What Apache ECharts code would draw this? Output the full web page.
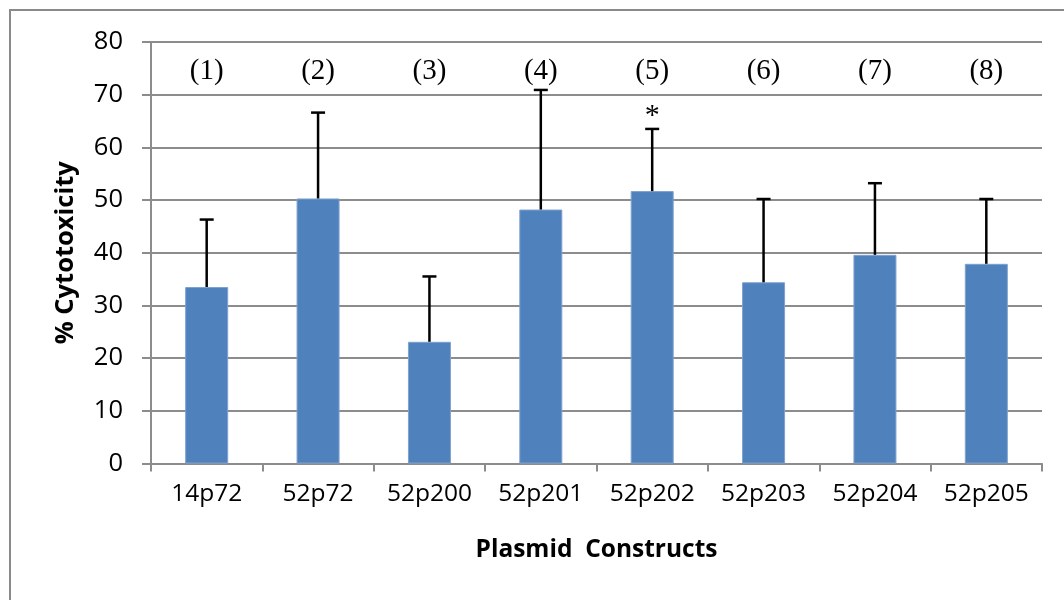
<!DOCTYPE html>
<html>
<head>
<meta charset="utf-8">
<script src="https://cdn.jsdelivr.net/npm/echarts@6/dist/echarts.min.js"></script>
<style>
  html, body { margin: 0; padding: 0; background: #fff; }
  #chart { width: 1064px; height: 600px; }
</style>
</head>
<body>
<div id="chart"></div>
<script>
// Plasmid constructs and their mean % cytotoxicity with upper error bars
const categories = ['14p72', '52p72', '52p200', '52p201', '52p202', '52p203', '52p204', '52p205'];
const cytotoxicity = [33.5, 50.3, 23.1, 48.2, 51.7, 34.4, 39.6, 37.9];
const errorTop = [46.3, 66.6, 35.5, 70.9, 63.5, 50.2, 53.2, 50.2];
const groupLabels = ['(1)', '(2)', '(3)', '(4)', '(5)', '(6)', '(7)', '(8)'];
const significance = ['', '', '', '', '*', '', '', ''];
const yTicks = { min: 0, max: 80, interval: 10 };
const groupLabelLevel = 74.5;

const sans = '"Open Sans", "Noto Sans", sans-serif';
const serif = '"Liberation Serif", "DejaVu Serif", serif';
const gridGray = '#8c8c8c';

const chart = echarts.init(document.getElementById('chart'));

chart.setOption({
  animation: false,
  backgroundColor: '#fff',
  graphic: [{
    type: 'rect',
    shape: { x: 10, y: 10, width: 1120, height: 700 },
    style: { fill: 'none', stroke: '#8a8a8a', lineWidth: 2 },
    z: -1
  }],
  grid: { left: 151, right: 22, top: 42, bottom: 136.5 },
  xAxis: {
    type: 'category',
    data: categories,
    name: 'Plasmid  Constructs',
    nameLocation: 'middle',
    nameGap: 74,
    nameTextStyle: { fontFamily: sans, fontSize: 24.5, fontWeight: 'bold', color: '#000' },
    axisLine: { lineStyle: { color: gridGray, width: 2 } },
    axisTick: { show: true, length: 8, lineStyle: { color: gridGray, width: 2 } },
    axisLabel: { fontFamily: sans, fontSize: 24.5, color: '#000', margin: 18 }
  },
  yAxis: {
    type: 'value',
    min: yTicks.min, max: yTicks.max, interval: yTicks.interval,
    name: '% Cytotoxicity',
    nameLocation: 'middle',
    nameGap: 72,
    nameTextStyle: { fontFamily: sans, fontSize: 25.5, fontWeight: 'bold', color: '#000' },
    axisLine: { show: true, lineStyle: { color: gridGray, width: 2 } },
    axisTick: { show: true, length: 9, lineStyle: { color: gridGray, width: 2 } },
    axisLabel: { fontFamily: sans, fontSize: 25.5, color: '#000', margin: 28 },
    splitLine: { lineStyle: { color: gridGray, width: 2 } }
  },
  series: [
    {
      name: '% Cytotoxicity',
      type: 'bar',
      data: cytotoxicity,
      barWidth: 43,
      itemStyle: { color: '#4F81BD', borderColor: '#7ea1cf', borderWidth: 1 },
      z: 2
    },
    {
      // upper error bars with cap, plus significance marker
      type: 'custom',
      data: categories.map((c, i) => [i, cytotoxicity[i], errorTop[i]]),
      renderItem: function (params, api) {
        const i = api.value(0);
        const base = api.coord([i, api.value(1)]);
        const top = api.coord([i, api.value(2)]);
        const cap = 7;
        const children = [
          { type: 'line', shape: { x1: base[0], y1: base[1], x2: top[0], y2: top[1] },
            style: { stroke: '#000', lineWidth: 2.5 } },
          { type: 'line', shape: { x1: top[0] - cap, y1: top[1], x2: top[0] + cap, y2: top[1] },
            style: { stroke: '#000', lineWidth: 2.5 } }
        ];
        const mark = significance[i];
        if (mark) {
          children.push({
            type: 'text',
            style: { text: mark, x: top[0], y: top[1] + 2, textAlign: 'center', textVerticalAlign: 'bottom',
                     font: '30px ' + serif, fill: '#000' }
          });
        }
        return { type: 'group', children: children };
      },
      z: 3
    },
    {
      // numbered group labels across the top of the plot
      type: 'custom',
      data: groupLabels.map((t, i) => [i, groupLabelLevel]),
      renderItem: function (params, api) {
        const p = api.coord([api.value(0), api.value(1)]);
        return {
          type: 'text',
          style: { text: groupLabels[params.dataIndex], x: p[0], y: p[1], textAlign: 'center',
                   textVerticalAlign: 'middle', font: '29px ' + serif, fill: '#000' }
        };
      },
      z: 3
    }
  ]
});
</script>
</body>
</html>
